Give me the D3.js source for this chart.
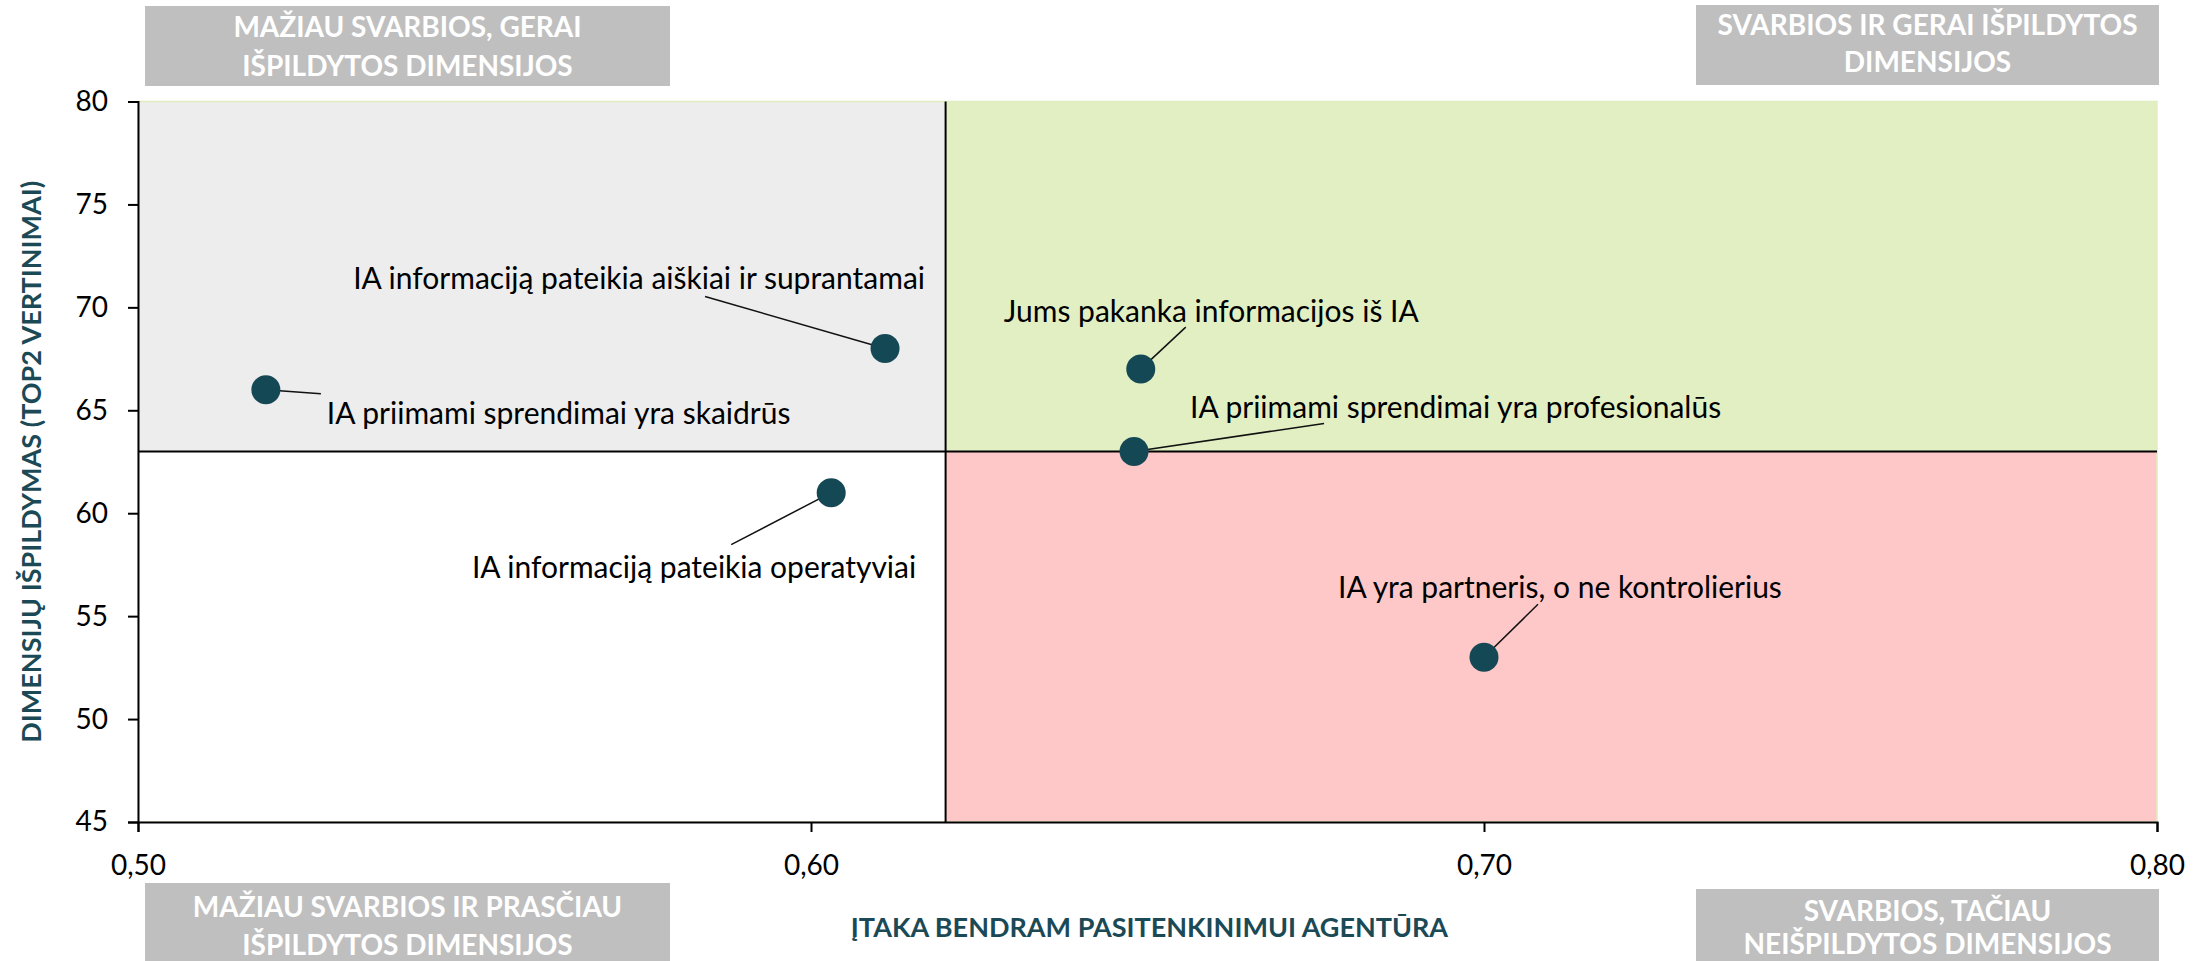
<!DOCTYPE html>
<head>
<meta charset="utf-8">
<title>IA dimensijos</title>
<script type="text/javascript" src="https://d3js.org/d3.v7.min.js"></script>
<style>
  body { margin: 0; background: #fff; }
  svg text { font-family: Lato, "Noto Sans", sans-serif; }
  .axis path, .axis line { stroke: #000; stroke-width: 2; }
  .axis text { font-size: 28px; fill: #000; }
  .ptlabel { font-size: 30px; fill: #000; }
  .qtitle { font-size: 28px; font-weight: bold; fill: #fff; }
  .axtitle { font-size: 27px; font-weight: bold; fill: #1b4a56; }
</style>
</head>
<body>
<div id="container"></div>
<script>

//------------------------ DATA ------------------------//
const dimensions = [
  "IA informaciją pateikia aiškiai ir suprantamai",
  "IA priimami sprendimai yra skaidrūs",
  "IA informaciją pateikia operatyviai",
  "Jums pakanka informacijos iš IA",
  "IA priimami sprendimai yra profesionalūs",
  "IA yra partneris, o ne kontrolierius"
];
const impact      = [0.611, 0.519, 0.603, 0.649, 0.648, 0.700];   // x
const performance = [68, 66, 61, 67, 63, 53];                     // y

const xTicks = [0.50, 0.60, 0.70, 0.80];
const yTicks = [45, 50, 55, 60, 65, 70, 75, 80];
const xSplit = 0.62;
const ySplit = 63;

const xTitle = "ĮTAKA BENDRAM PASITENKINIMUI AGENTŪRA";
const yTitle = "DIMENSIJŲ IŠPILDYMAS (TOP2 VERTINIMAI)";

const quadrantNames = [
  ["MAŽIAU SVARBIOS, GERAI", "IŠPILDYTOS DIMENSIJOS"],
  ["SVARBIOS IR GERAI IŠPILDYTOS", "DIMENSIJOS"],
  ["MAŽIAU SVARBIOS IR PRASČIAU", "IŠPILDYTOS DIMENSIJOS"],
  ["SVARBIOS, TAČIAU", "NEIŠPILDYTOS DIMENSIJOS"]
];

//------------------------ LAYOUT ------------------------//
const W = 2211, H = 961;
const margin = {top: 101.5, right: 54, bottom: 139, left: 138};
const width = W - margin.left - margin.right;
const height = H - margin.top - margin.bottom;

// label placement relative to point: text dx/dy, anchor, leader end dx/dy
const labelPos = [
  {tx: 40,   ty: -70, anchor: "end",   lx: -180, ly: -52},
  {tx: 61,   ty: 24,  anchor: "start", lx: 55,   ly: 4},
  {tx: 85,   ty: 75,  anchor: "end",   lx: -100, ly: 52},
  {tx: -137, ty: -58, anchor: "start", lx: 45,   ly: -42},
  {tx: 56,   ty: -44, anchor: "start", lx: 190,  ly: -28},
  {tx: -146, ty: -70, anchor: "start", lx: 54,   ly: -53}
];

// quadrant caption boxes (outside the plot, page coords)
const boxes = [
  {x: 145,  y: 6,   w: 525, l1: 21, l2: 60},
  {x: 1696, y: 5,   w: 463, l1: 20, l2: 57},
  {x: 145,  y: 883, w: 525, l1: 24, l2: 62},
  {x: 1696, y: 889, w: 463, l1: 22, l2: 55}
];

const svg = d3.select("#container").append("svg")
    .attr("width", W)
    .attr("height", H);

const g = svg.append("g")
    .attr("transform", "translate(" + margin.left + "," + margin.top + ")");

//------------------------ SCALES ------------------------//
const x = d3.scaleLinear().domain([0.5, 0.8]).range([0, width]);
const y = d3.scaleLinear().domain([45, 80]).range([height, 0]);

const lt = d3.formatLocale({decimal: ",", thousands: " ", grouping: [3], currency: ["", "€"]});

//------------------------ QUADRANTS ------------------------//
const quads = [
  {x0: 0.5, x1: xSplit, y0: ySplit, y1: 80, fill: "#ededed"},
  {x0: xSplit, x1: 0.8, y0: ySplit, y1: 80, fill: "#e2efc3"},
  {x0: 0.5, x1: xSplit, y0: 45, y1: ySplit, fill: "#ffffff"},
  {x0: xSplit, x1: 0.8, y0: 45, y1: ySplit, fill: "#fec8c8"}
];
g.selectAll("rect.quad")
  .data(quads)
  .enter().append("rect")
    .attr("class", "quad")
    .attr("x", d => x(d.x0))
    .attr("y", d => y(d.y1))
    .attr("width", d => x(d.x1) - x(d.x0))
    .attr("height", d => y(d.y0) - y(d.y1))
    .attr("fill", d => d.fill);

// faint plot border
g.append("rect")
    .attr("width", width).attr("height", height)
    .attr("fill", "none").attr("stroke", "#dfeec0").attr("stroke-width", 1.5);

// split lines
g.append("line")
    .attr("x1", x(xSplit)).attr("x2", x(xSplit))
    .attr("y1", 0).attr("y2", height)
    .attr("stroke", "#000").attr("stroke-width", 2);
g.append("line")
    .attr("x1", 0).attr("x2", width)
    .attr("y1", y(ySplit)).attr("y2", y(ySplit))
    .attr("stroke", "#000").attr("stroke-width", 2);

//------------------------ AXES ------------------------//
g.append("g")
    .attr("class", "axis")
    .attr("transform", "translate(0," + height + ")")
    .call(d3.axisBottom(x).tickValues(xTicks).tickSize(10).tickSizeOuter(10).tickPadding(23).tickFormat(lt.format(".2f")));

g.append("g")
    .attr("class", "axis")
    .call(d3.axisLeft(y).tickValues(yTicks).tickSize(10).tickSizeOuter(10).tickPadding(20).tickFormat(d3.format("d")));

//------------------------ POINTS ------------------------//
const pts = dimensions.map((name, i) => ({name: name, x: impact[i], y: performance[i], p: labelPos[i]}));

g.selectAll("line.leader")
  .data(pts)
  .enter().append("line")
    .attr("class", "leader")
    .attr("x1", d => x(d.x)).attr("y1", d => y(d.y))
    .attr("x2", d => x(d.x) + d.p.lx).attr("y2", d => y(d.y) + d.p.ly)
    .attr("stroke", "#111").attr("stroke-width", 1.5);

g.selectAll("circle.pt")
  .data(pts)
  .enter().append("circle")
    .attr("class", "pt")
    .attr("cx", d => x(d.x)).attr("cy", d => y(d.y))
    .attr("r", 14.5)
    .attr("fill", "#154855");

g.selectAll("text.ptlabel")
  .data(pts)
  .enter().append("text")
    .attr("class", "ptlabel")
    .attr("x", d => x(d.x) + d.p.tx)
    .attr("y", d => y(d.y) + d.p.ty)
    .attr("dy", "0.35em")
    .attr("text-anchor", d => d.p.anchor)
    .text(d => d.name);

//------------------------ TITLES ------------------------//
svg.append("text")
    .attr("class", "axtitle")
    .attr("x", margin.left + width / 2 + 2)
    .attr("y", 928)
    .attr("dy", "0.35em")
    .attr("text-anchor", "middle")
    .text(xTitle);

svg.append("text")
    .attr("class", "axtitle")
    .attr("transform", "translate(32," + (margin.top + height / 2) + ") rotate(-90)")
    .attr("dy", "0.35em")
    .attr("text-anchor", "middle")
    .text(yTitle);

const bx = svg.selectAll("g.qbox")
  .data(boxes)
  .enter().append("g")
    .attr("class", "qbox");
bx.append("rect")
    .attr("x", d => d.x).attr("y", d => d.y)
    .attr("width", d => d.w).attr("height", 80)
    .attr("fill", "#bfbfbf");
bx.append("text")
    .attr("class", "qtitle")
    .attr("x", d => d.x + d.w / 2).attr("y", d => d.y + d.l1)
    .attr("dy", "0.35em").attr("text-anchor", "middle")
    .text((d, i) => quadrantNames[i][0]);
bx.append("text")
    .attr("class", "qtitle")
    .attr("x", d => d.x + d.w / 2).attr("y", d => d.y + d.l2)
    .attr("dy", "0.35em").attr("text-anchor", "middle")
    .text((d, i) => quadrantNames[i][1]);

</script>
</body>
